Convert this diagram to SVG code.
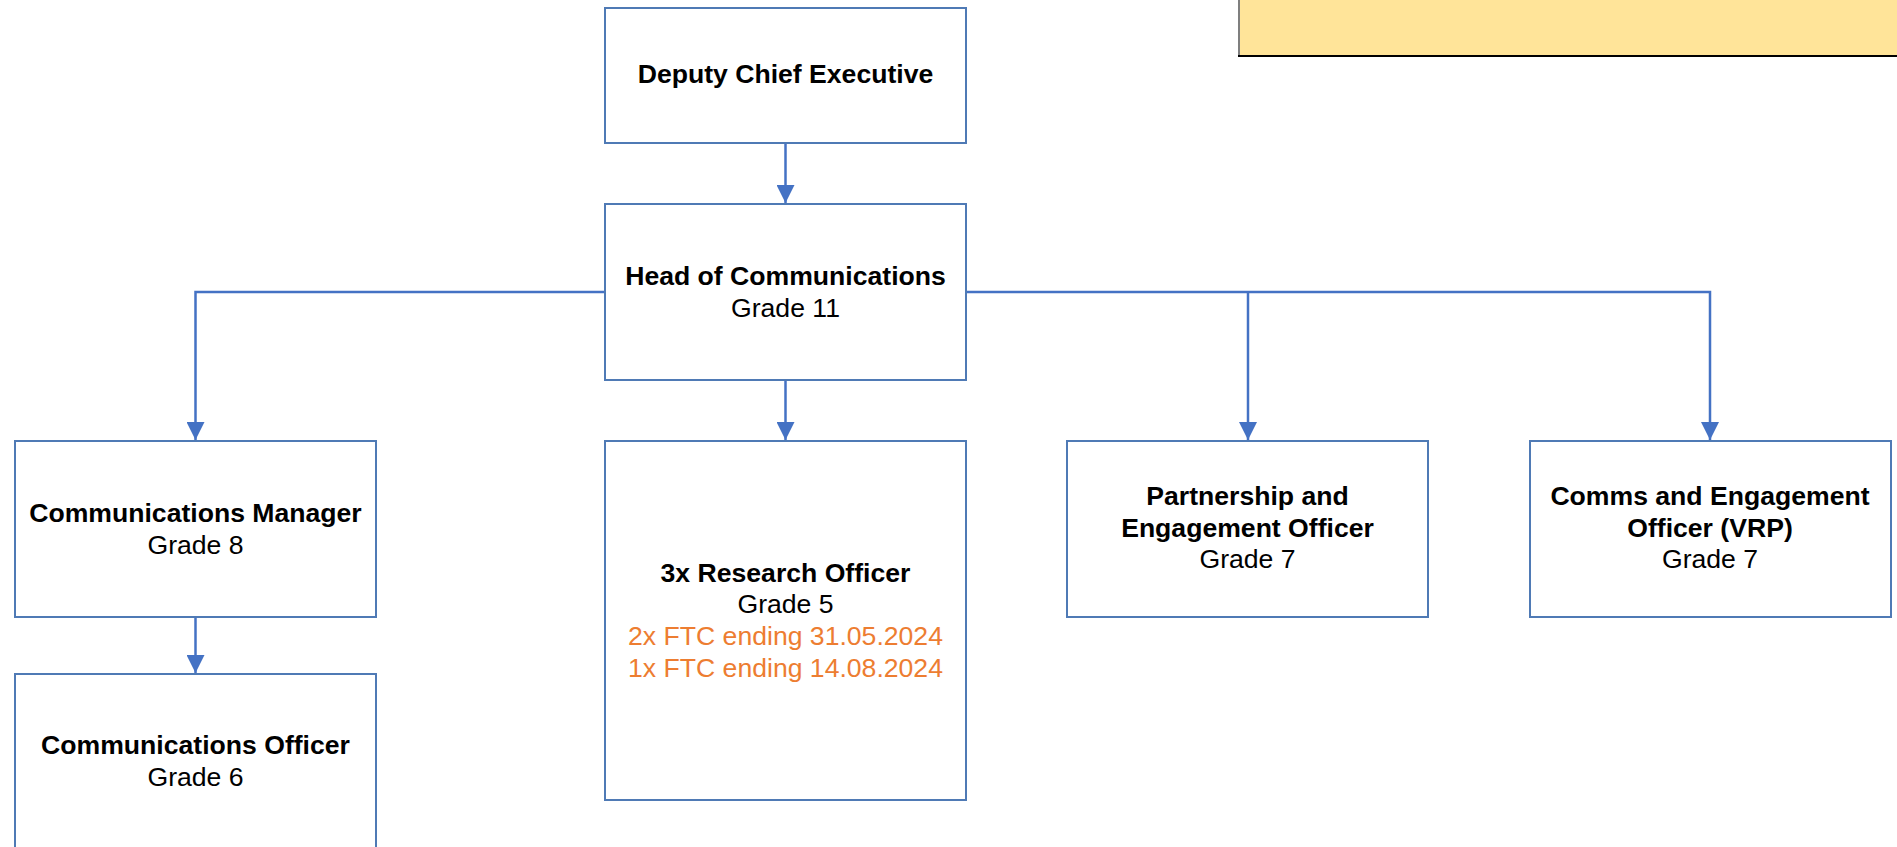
<svg xmlns="http://www.w3.org/2000/svg" width="1897" height="847" viewBox="0 0 1897 847">
<defs>
<style>
.box{fill:#FFFFFF;stroke:#4F7AB5;stroke-width:2}
.conn{fill:none;stroke:#4472C4;stroke-width:2.5}
.t{font-family:"Liberation Sans",Arial,sans-serif;font-size:26.6px;text-anchor:middle;fill:#000000}
.b{font-weight:bold}
.o{fill:#ED7D31}
</style>
<marker id="arr" viewBox="0 0 18 18" refX="18" refY="9" markerWidth="18" markerHeight="18" markerUnits="userSpaceOnUse" orient="auto">
<path d="M0,0 L18,9 L0,18 Z" fill="#4472C4"/>
</marker>
</defs>
<rect width="1897" height="847" fill="#FFFFFF"/>
<g id="note">
<rect x="1239" y="-4" width="670" height="60" fill="#FFE499"/>
<line x1="1239" y1="-4" x2="1239" y2="56" stroke="#7F7F7F" stroke-width="2"/>
<line x1="1238" y1="56" x2="1897" y2="56" stroke="#000000" stroke-width="2"/>
</g>
<g id="connectors">
<line class="conn" x1="785.5" y1="143" x2="785.5" y2="203" marker-end="url(#arr)"/>
<polyline class="conn" points="605,292 195.5,292 195.5,440" marker-end="url(#arr)"/>
<line class="conn" x1="785.5" y1="380" x2="785.5" y2="440" marker-end="url(#arr)"/>
<polyline class="conn" points="966,292 1710,292 1710,440" marker-end="url(#arr)"/>
<line class="conn" x1="1248" y1="292" x2="1248" y2="440" marker-end="url(#arr)"/>
<line class="conn" x1="195.5" y1="617" x2="195.5" y2="673" marker-end="url(#arr)"/>
</g>
<g id="deputy">
<rect class="box" x="605" y="8" width="361" height="135"/>
<text class="t b" x="785.5" y="83">Deputy Chief Executive</text>
</g>
<g id="head">
<rect class="box" x="605" y="204" width="361" height="176"/>
<text class="t b" x="785.5" y="285">Head of Communications</text>
<text class="t" x="785.5" y="317">Grade 11</text>
</g>
<g id="commsManager">
<rect class="box" x="15" y="441" width="361" height="176"/>
<text class="t b" x="195.5" y="522">Communications Manager</text>
<text class="t" x="195.5" y="554">Grade 8</text>
</g>
<g id="commsOfficer">
<rect class="box" x="15" y="674" width="361" height="190"/>
<text class="t b" x="195.5" y="754">Communications Officer</text>
<text class="t" x="195.5" y="786">Grade 6</text>
</g>
<g id="research">
<rect class="box" x="605" y="441" width="361" height="359"/>
<text class="t b" x="785.5" y="582">3x Research Officer</text>
<text class="t" x="785.5" y="613">Grade 5</text>
<text class="t o" x="785.5" y="645">2x FTC ending 31.05.2024</text>
<text class="t o" x="785.5" y="677">1x FTC ending 14.08.2024</text>
</g>
<g id="partnership">
<rect class="box" x="1067" y="441" width="361" height="176"/>
<text class="t b" x="1247.5" y="505">Partnership and</text>
<text class="t b" x="1247.5" y="537">Engagement Officer</text>
<text class="t" x="1247.5" y="568">Grade 7</text>
</g>
<g id="commsEngagement">
<rect class="box" x="1530" y="441" width="361" height="176"/>
<text class="t b" x="1710" y="505">Comms and Engagement</text>
<text class="t b" x="1710" y="537">Officer (VRP)</text>
<text class="t" x="1710" y="568">Grade 7</text>
</g>
</svg>
